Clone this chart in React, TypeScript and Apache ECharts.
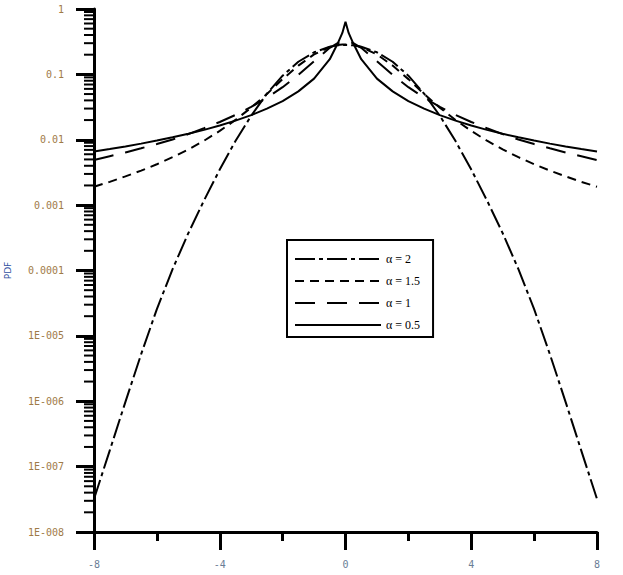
import React, { useEffect, useRef } from "react";
import * as echarts from "echarts";

const xValues = [-8, -7.5, -7, -6.5, -6, -5.5, -5, -4.5, -4, -3.5, -3, -2.5, -2, -1.5, -1, -0.5, -0.25, -0.1, 0, 0.1, 0.25, 0.5, 1, 1.5, 2, 2.5, 3, 3.5, 4, 4.5, 5, 5.5, 6, 6.5, 7, 7.5, 8];

const alpha2 = [3.2e-8, 1.76e-7, 9.8e-7, 5.25e-6, 2.57e-5, 1.05e-4, 3.72e-4, 1.18e-3, 3.5e-3, 9.55e-3, 2.33e-2, 5.07e-2, 0.0956, 0.1559, 0.2175, 0.2645, 0.2777, 0.2814, 0.2821, 0.2814, 0.2777, 0.2645, 0.2175, 0.1559, 0.0956, 5.07e-2, 2.33e-2, 9.55e-3, 3.5e-3, 1.18e-3, 3.72e-4, 1.05e-4, 2.57e-5, 5.25e-6, 9.8e-7, 1.76e-7, 3.2e-8];

const alpha15 = [0.00191, 0.00227, 0.00275, 0.00337, 0.00422, 0.00541, 0.00711, 0.00966, 0.01365, 0.0201, 0.031, 0.0502, 0.0846, 0.1362, 0.2021, 0.2623, 0.2808, 0.2863, 0.2874, 0.2863, 0.2808, 0.2623, 0.2021, 0.1362, 0.0846, 0.0502, 0.031, 0.0201, 0.01365, 0.00966, 0.00711, 0.00541, 0.00422, 0.00337, 0.00275, 0.00227, 0.00191];

const alpha1 = [0.0049, 0.0056, 0.0064, 0.0074, 0.0086, 0.0101, 0.0122, 0.015, 0.0187, 0.024, 0.0318, 0.0439, 0.0637, 0.0979, 0.1592, 0.2546, 0.2996, 0.3152, 0.3183, 0.3152, 0.2996, 0.2546, 0.1592, 0.0979, 0.0637, 0.0439, 0.0318, 0.024, 0.0187, 0.015, 0.0122, 0.0101, 0.0086, 0.0074, 0.0064, 0.0056, 0.0049];

const alpha05 = [0.0066, 0.0072, 0.0079, 0.00872, 0.00971, 0.01089, 0.01235, 0.01417, 0.0165, 0.01959, 0.0238, 0.0299, 0.0391, 0.0549, 0.0861, 0.1708, 0.296, 0.43, 0.6366, 0.43, 0.296, 0.1708, 0.0861, 0.0549, 0.0391, 0.0299, 0.0238, 0.01959, 0.0165, 0.01417, 0.01235, 0.01089, 0.00971, 0.00872, 0.0079, 0.0072, 0.0066];

const seriesNames = ["α = 2", "α = 1.5", "α = 1", "α = 0.5"];
const yTickLabels = ["1E-008", "1E-007", "1E-006", "1E-005", "0.0001", "0.001", "0.01", "0.1", "1"];
const xTickLabels = ["-8", "-4", "0", "4", "8"];

export default function App() {
  const ref = useRef<HTMLDivElement>(null);
  useEffect(() => {
    if (!ref.current) return;
    const chart = echarts.init(ref.current, null, { renderer: "svg" });

    const minorTicks: number[][] = [];
    for (let e = -8; e < 0; e++) {
      for (let m = 2; m <= 9; m++) minorTicks.push([-8, m * Math.pow(10, e)]);
    }

    const pairs = (ys: number[]) => xValues.map((x, i) => [x, ys[i]]);
    const dashes: any[] = [[20, 4, 4, 4], [9, 6], [20, 12], "solid"];
    const datas = [alpha2, alpha15, alpha1, alpha05];

    const lineSeries = seriesNames.map((name, i) => ({
      name,
      type: "line",
      data: pairs(datas[i]),
      symbol: "none",
      showSymbol: false,
      lineStyle: { color: "#000", width: 2, type: dashes[i] },
      itemStyle: { color: "#000" },
      z: 3,
    }));

    chart.setOption({
      animation: false,
      backgroundColor: "#fff",
      grid: { left: 94, right: 26, top: 9, bottom: 43, containLabel: false, outerBoundsMode: "none" },
      legend: {
        data: seriesNames,
        orient: "vertical",
        left: 287,
        top: 240,
        padding: [13, 13, 6, 7],
        itemWidth: 86,
        itemHeight: 14,
        itemGap: 10,
        borderColor: "#000",
        borderWidth: 2,
        backgroundColor: "#fff",
        itemStyle: { color: "transparent", borderColor: "transparent", borderWidth: 0 },
        textStyle: { fontFamily: "Liberation Serif", fontSize: 12, color: "#000" },
      },
      xAxis: {
        type: "value",
        min: -8,
        max: 8,
        interval: 4,
        axisLine: { onZero: false, lineStyle: { color: "#000", width: 3 } },
        axisTick: { length: 18, lineStyle: { color: "#000", width: 3 } },
        minorTick: { show: true, splitNumber: 2, length: 9, lineStyle: { color: "#000", width: 3 } },
        splitLine: { show: false },
        minorSplitLine: { show: false },
        axisLabel: {
          margin: 27,
          fontFamily: "DejaVu Sans Mono",
          fontSize: 10,
          color: "#6a7d96",
          formatter: (v: number) => xTickLabels[Math.round((v + 8) / 4)] ?? String(v),
        },
      },
      yAxis: {
        type: "log",
        logBase: 10,
        min: 1e-8,
        max: 1,
        splitNumber: 8,
        name: "PDF",
        nameLocation: "middle",
        nameGap: 82,
        nameRotate: 90,
        nameTextStyle: { color: "#3050a0", fontSize: 9, fontFamily: "DejaVu Sans" },
        axisLine: { show: true, onZero: false, lineStyle: { color: "#000", width: 3 } },
        axisTick: { length: 18, lineStyle: { color: "#000", width: 3 } },
        splitLine: { show: false },
        axisLabel: {
          margin: 30,
          fontFamily: "DejaVu Sans Mono",
          fontSize: 10,
          color: "#a07a48",
          formatter: (v: number) => {
            const e = Math.round(Math.log10(v));
            return yTickLabels[e + 8] ?? "";
          },
        },
      },
      series: [
        ...lineSeries,
        {
          type: "custom",
          name: "minorTicks",
          silent: true,
          clip: false,
          data: minorTicks,
          encode: { x: 0, y: 1 },
          z: 5,
          renderItem: (params: any, api: any) => {
            const p = api.coord([api.value(0), api.value(1)]);
            return {
              type: "line",
              shape: { x1: p[0] - 10, y1: p[1], x2: p[0], y2: p[1] },
              style: { stroke: "#000", lineWidth: 2 },
            };
          },
        },
      ],
    });
    return () => chart.dispose();
  }, []);

  return (
    <div
      ref={ref}
      style={{ position: "fixed", left: 0, top: 0, width: 623, height: 575, background: "#fff" }}
    />
  );
}
